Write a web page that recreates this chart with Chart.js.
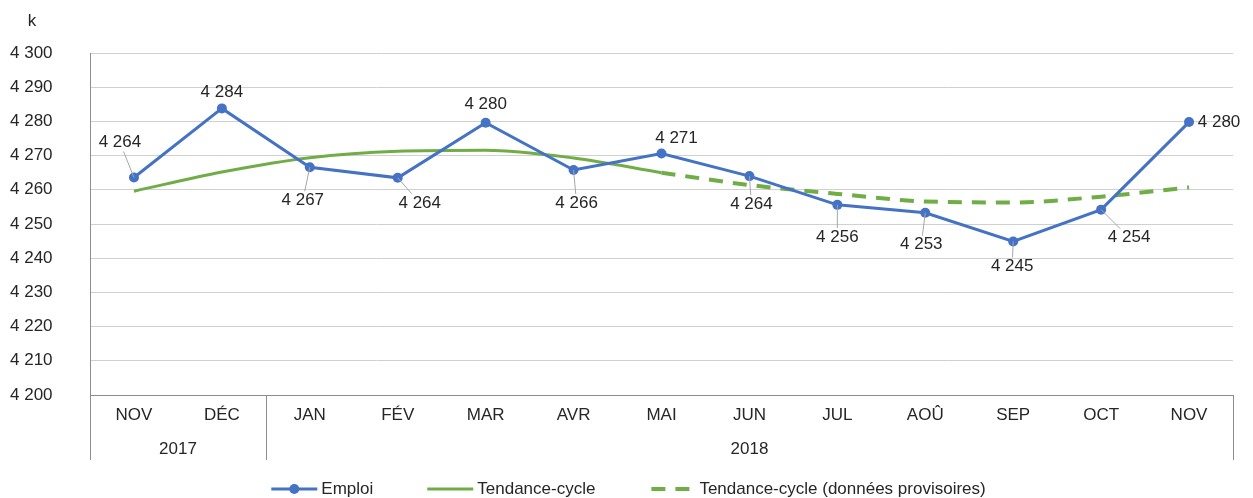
<!DOCTYPE html>
<html>
<head>
<meta charset="utf-8">
<script src="https://cdn.jsdelivr.net/npm/chart.js@4"></script>
<style>
  html, body { margin: 0; padding: 0; background: #fff; }
</style>
</head>
<body>
<canvas id="chart" width="1253" height="498"></canvas>
<script>
// data
const months = ["NOV", "DÉC", "JAN", "FÉV", "MAR", "AVR", "MAI", "JUN", "JUL", "AOÛ", "SEP", "OCT", "NOV"];
const years = [
  { label: "2017", from: 0, to: 1 },
  { label: "2018", from: 2, to: 12 },
];
const emploi = [4263.6, 4283.8, 4266.6, 4263.5, 4279.6, 4265.8, 4270.6, 4264.0, 4255.6, 4253.3, 4244.9, 4254.2, 4279.8];
const tendance = [4259.6, 4265.2, 4269.4, 4271.3, 4271.6, 4269.3, 4265.0, null, null, null, null, null, null];
const tendanceProv = [null, null, null, null, null, null, 4265.0, 4261.4, 4258.8, 4256.6, 4256.3, 4258.0, 4260.7];
const yMin = 4200;
const yMax = 4300;
const yStep = 10;

// label placement (px offset from the point)
const labelOffsets = [[-14, -35], [0, -16], [-7, 33], [22, 25], [0, -18], [3, 33], [15, -15], [2, 28], [0, 32], [-4, 32], [-1, 25], [28, 28], [30, 0]];

const BLUE = "#4472C4";
const GREEN = "#70AD47";
const AXIS = "#8c8c8c";
const TEXT = "#262626";
const FONT = "17px 'Liberation Sans', Arial, sans-serif";

Chart.defaults.font.family = "'Liberation Sans', Arial, sans-serif";
Chart.defaults.font.size = 17;
Chart.defaults.color = TEXT;

const fmt = (v) => {
  const s = String(Math.round(v));
  return s.replace(/\B(?=(\d{3})+(?!\d))/g, " ");
};

// data labels with leader lines
const dataLabels = {
  id: "dataLabels",
  afterDatasetsDraw(chart) {
    const ctx = chart.ctx;
    const meta = chart.getDatasetMeta(0);
    ctx.save();
    ctx.font = FONT;
    ctx.textAlign = "center";
    ctx.textBaseline = "middle";
    meta.data.forEach((pt, i) => {
      const [dx, dy] = labelOffsets[i];
      const lx = pt.x + dx;
      const ly = pt.y + dy;
      const hw = 23, hh = 9;
      const t = Math.min(dx ? hw / Math.abs(dx) : Infinity, dy ? hh / Math.abs(dy) : Infinity);
      const ex = lx - dx * t;
      const ey = ly - dy * t;
      if (Math.hypot(ex - pt.x, ey - pt.y) > 12) {
        ctx.strokeStyle = "#a6a6a6";
        ctx.lineWidth = 1;
        ctx.beginPath();
        ctx.moveTo(pt.x, pt.y);
        ctx.lineTo(ex, ey);
        ctx.stroke();
      }
      ctx.fillStyle = TEXT;
      ctx.fillText(fmt(emploi[i]), lx, ly);
    });
    ctx.restore();
  },
};

// two-level x axis, "k" unit and legend
const extras = {
  id: "extras",
  afterDraw(chart) {
    const ctx = chart.ctx;
    const area = chart.chartArea;
    const x = chart.scales.x;
    const bottom = area.bottom;
    ctx.save();
    ctx.strokeStyle = AXIS;
    ctx.lineWidth = 1;
    const seps = [area.left, (x.getPixelForValue(1) + x.getPixelForValue(2)) / 2, area.right];
    seps.forEach((sx) => {
      const px = Math.round(sx) + 0.5;
      ctx.beginPath();
      ctx.moveTo(px, bottom);
      ctx.lineTo(px, bottom + 65);
      ctx.stroke();
    });
    ctx.font = FONT;
    ctx.fillStyle = TEXT;
    ctx.textAlign = "center";
    ctx.textBaseline = "middle";
    years.forEach((y) => {
      const cx = (x.getPixelForValue(y.from) + x.getPixelForValue(y.to)) / 2;
      ctx.fillText(y.label, cx, bottom + 54);
    });
    ctx.fillText("k", 32, 21);

    // legend
    const items = chart.data.datasets.map((d) => d.label);
    const markW = 46, gap = 4, itemGap = 54;
    const widths = items.map((t) => markW + gap + ctx.measureText(t).width);
    const total = widths.reduce((a, b) => a + b, 0) + itemGap * (items.length - 1);
    let lx = chart.width / 2 - total / 2 + 2;
    const ly = 489;
    ctx.textAlign = "left";
    items.forEach((t, i) => {
      ctx.beginPath();
      if (i === 0) {
        ctx.strokeStyle = BLUE;
        ctx.lineWidth = 3;
        ctx.moveTo(lx, ly);
        ctx.lineTo(lx + markW, ly);
        ctx.stroke();
        ctx.fillStyle = BLUE;
        ctx.beginPath();
        ctx.arc(lx + markW / 2, ly, 5, 0, Math.PI * 2);
        ctx.fill();
      } else if (i === 1) {
        ctx.strokeStyle = GREEN;
        ctx.lineWidth = 3;
        ctx.moveTo(lx, ly);
        ctx.lineTo(lx + markW, ly);
        ctx.stroke();
      } else {
        ctx.strokeStyle = GREEN;
        ctx.lineWidth = 4;
        ctx.setLineDash([14, 10]);
        ctx.moveTo(lx + 2, ly);
        ctx.lineTo(lx + markW, ly);
        ctx.stroke();
        ctx.setLineDash([]);
      }
      ctx.fillStyle = TEXT;
      ctx.fillText(t, lx + markW + gap, ly);
      lx += widths[i] + itemGap;
    });
    ctx.restore();
  },
};

new Chart(document.getElementById("chart"), {
  type: "line",
  data: {
    labels: months,
    datasets: [
      {
        label: "Emploi",
        data: emploi,
        borderColor: BLUE,
        backgroundColor: BLUE,
        borderWidth: 3,
        pointRadius: 5,
        pointBorderWidth: 0,
        pointBackgroundColor: BLUE,
        tension: 0,
        order: 0,
      },
      {
        label: "Tendance-cycle",
        data: tendance,
        borderColor: GREEN,
        borderWidth: 3,
        pointRadius: 0,
        cubicInterpolationMode: "monotone",
        order: 1,
      },
      {
        label: "Tendance-cycle (données provisoires)",
        data: tendanceProv,
        borderColor: GREEN,
        borderWidth: 4,
        borderDash: [14, 10],
        pointRadius: 0,
        cubicInterpolationMode: "monotone",
        order: 2,
      },
    ],
  },
  options: {
    responsive: false,
    animation: false,
    layout: { padding: { top: 53, left: 10, right: 20, bottom: 38 } },
    plugins: {
      legend: { display: false },
      tooltip: { enabled: false },
    },
    scales: {
      x: {
        offset: true,
        grid: { display: false, drawTicks: false },
        border: { display: true, color: AXIS, width: 1 },
        ticks: { padding: 10, maxRotation: 0, autoSkip: false },
        afterFit(scale) { scale.height = 65; },
      },
      y: {
        min: yMin,
        max: yMax,
        grid: { color: "#d0d0d0", drawTicks: false },
        border: { display: true, color: AXIS, width: 1 },
        ticks: {
          stepSize: yStep,
          crossAlign: "far",
          callback: (v) => fmt(v),
        },
        afterFit(scale) { scale.width = 80; },
      },
    },
  },
  plugins: [dataLabels, extras],
});
</script>
</body>
</html>
